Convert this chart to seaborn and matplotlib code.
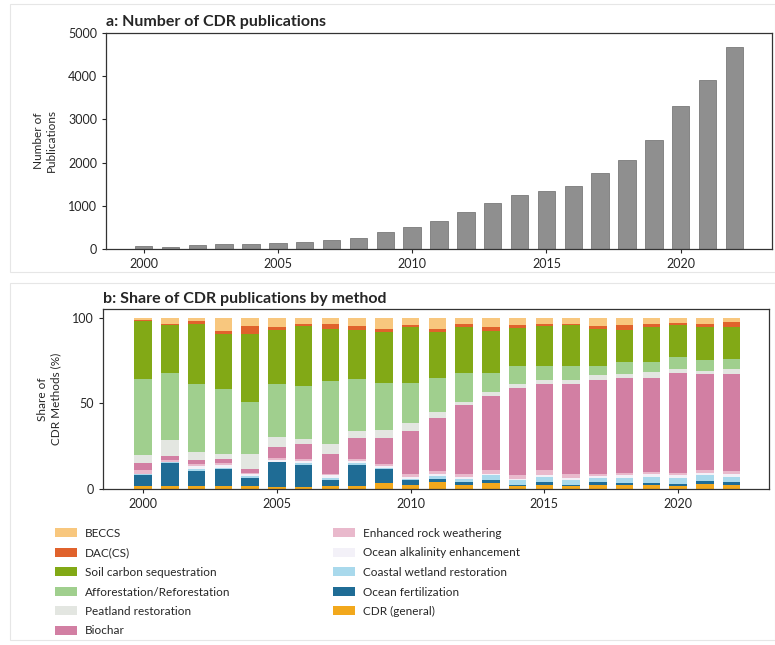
import numpy as np
import pandas as pd
import matplotlib
matplotlib.use("Agg")
import matplotlib.pyplot as plt
from matplotlib.patches import Patch, Rectangle
import seaborn as sns

# ---------------- data ----------------
years = list(range(2000, 2023))
publications = [70, 50, 100, 120, 120, 150, 170, 200, 250, 400, 510, 640, 850,
                 1060, 1240, 1340, 1450, 1760, 2060, 2520, 3320, 3920, 4670]

# methods in stacking order (bottom -> top)
methods = ["CDR (general)", "Ocean fertilization", "Coastal wetland restoration",
           "Ocean alkalinity enhancement", "Enhanced rock weathering", "Biochar",
           "Peatland restoration", "Afforestation/Reforestation",
           "Soil carbon sequestration", "DAC(CS)", "BECCS"]

cdr_general = [1.5, 2, 1.5, 1.5, 1.5, 1, 1, 1.5, 1.5, 3.5, 2.5, 4, 2.5, 3.5, 1.5, 2.5, 1.5, 2.5, 2.5, 2.5, 2, 3, 2.5]
ocean_fert  = [6.5, 13, 9, 10, 5, 14.5, 13, 4, 12.5, 8, 2.5, 2, 1.5, 2, 1, 1.5, 1, 1.5, 1, 1, 1, 1.5, 1.5]
coastal     = [0.5, 0.5, 1, 1, 1, 0.5, 1, 1, 1, 1, 1, 1.5, 2, 2.5, 2.5, 3, 3, 2.5, 3, 3.5, 3.5, 3.5, 3]
oae         = [0.5, 0.5, 2, 1.5, 1.5, 1, 1.5, 1.5, 1.5, 1, 1, 1.5, 1, 1, 1, 1, 1, 1, 1.5, 1.5, 1.5, 1.5, 2]
erw         = [2, 1, 1, 1, 0.5, 1, 1, 1, 1, 1, 2, 1.5, 2, 2, 2, 3, 2.5, 1.5, 1.5, 1.5, 1.5, 1.5, 1.5]
biochar     = [4, 2.5, 2.5, 2.5, 2, 6.5, 8.5, 11.5, 12.5, 15.5, 25, 31, 40, 43.5, 51, 50, 52, 54.5, 55, 55, 58, 56, 56.5]
peatland    = [5, 9, 4.5, 3, 9, 6, 3, 6, 4, 4.5, 4.5, 3.5, 2, 2, 2.5, 2.5, 2.5, 3, 2.5, 3, 2.5, 2, 3]
afforest    = [44, 39, 40, 38, 30, 31, 31, 36.5, 30, 27.5, 23.5, 20, 16.5, 11, 10.5, 8.5, 8.5, 5, 7, 6, 7, 6, 6]
soil        = [34, 28, 35, 32, 40, 31, 35, 30.5, 29, 29.5, 32.5, 26.5, 27, 24.5, 22, 23, 23.5, 22, 18.5, 20.5, 18.5, 19.5, 18.5]
dac         = [0.5, 1, 1.5, 1.5, 4.5, 2, 1.5, 2.5, 2, 2, 1, 2, 1.5, 2.5, 1.5, 1, 1, 1.5, 3, 2, 1.5, 2, 3]
beccs       = [1.5, 3.5, 2, 8, 5, 5.5, 3.5, 4, 5, 6.5, 4.5, 6.5, 4, 5.5, 4.5, 4, 3.5, 5, 4.5, 3.5, 3, 3.5, 2.5]

series = [cdr_general, ocean_fert, coastal, oae, erw, biochar, peatland,
          afforest, soil, dac, beccs]

colors = {
    "BECCS": "#f8c77e",
    "DAC(CS)": "#e0622c",
    "Soil carbon sequestration": "#82a916",
    "Afforestation/Reforestation": "#a0cf8e",
    "Peatland restoration": "#e3e6e1",
    "Biochar": "#d27fa3",
    "Enhanced rock weathering": "#e9b9cc",
    "Ocean alkalinity enhancement": "#f3f1f8",
    "Coastal wetland restoration": "#a9d9ec",
    "Ocean fertilization": "#1f6c95",
    "CDR (general)": "#f2a81c",
}

# ---------------- style ----------------
sns.set_theme(style="ticks")
plt.rcParams["font.family"] = ["Lato", "DejaVu Sans"]
plt.rcParams["axes.edgecolor"] = "#333333"
plt.rcParams["axes.linewidth"] = 0.9

fig = plt.figure(figsize=(7.75, 6.45), dpi=100)
W, H = 775, 645

def ax_rect(l, t, r, b):
    return [l / W, 1 - b / H, (r - l) / W, (b - t) / H]

# faint panel frames
for (l, t, r, b) in [(10, 4, 775, 272), (10, 283, 775, 640)]:
    fig.add_artist(Rectangle((l / W, 1 - b / H), (r - l) / W, (b - t) / H,
                             transform=fig.transFigure, fill=False,
                             edgecolor="#e6e6e6", linewidth=0.8))

# ---------------- panel a ----------------
ax1 = fig.add_axes(ax_rect(106, 33, 772, 249))
df_a = pd.DataFrame({"year": years, "n": publications})
sns.barplot(data=df_a, x="year", y="n", native_scale=True, width=0.65,
            color="#8f8f8f", saturation=1, edgecolor="#7a7a7a", linewidth=0.6,
            ax=ax1)
ax1.set_xlim(1998.6, 2023.4)
ax1.set_ylim(0, 5000)
ax1.set_yticks([0, 1000, 2000, 3000, 4000, 5000])
ax1.set_xticks([2000, 2005, 2010, 2015, 2020])
ax1.set_xlabel("")
ax1.set_ylabel("Number of\nPublications", fontsize=8.5, labelpad=8)
ax1.set_title("a: Number of CDR publications", loc="left", fontsize=11.5,
              fontweight="bold", pad=5)
ax1.tick_params(labelsize=9, length=3, width=0.8)

# ---------------- panel b ----------------
ax2 = fig.add_axes(ax_rect(103, 309, 769, 489))
long = pd.DataFrame({
    "year": np.repeat(years, len(methods)),
    "method": np.tile(methods, len(years)),
    "share": np.array(series).T.ravel(),
})
hue_order = methods[::-1]  # first level drawn on top of the stack
sns.histplot(data=long, x="year", weights="share", hue="method",
             hue_order=hue_order, palette=colors, multiple="stack",
             discrete=True, shrink=0.65, alpha=1, linewidth=0,
             legend=False, ax=ax2)
ax2.set_xlim(1998.5, 2023.4)
ax2.set_ylim(0, 105)
ax2.set_yticks([0, 50, 100])
ax2.set_xticks([2000, 2005, 2010, 2015, 2020])
ax2.set_xlabel("")
ax2.set_ylabel("Share of\nCDR Methods (%)", fontsize=8.5, labelpad=8)
ax2.set_title("b: Share of CDR publications by method", loc="left",
              fontsize=11.5, fontweight="bold", pad=4)
ax2.tick_params(labelsize=9, length=3, width=0.8)

# ---------------- legend ----------------
legend_order = methods[::-1]
handles = [Patch(facecolor=colors[m], edgecolor="none", label=m) for m in legend_order]
common = dict(frameon=False, fontsize=8.5, handlelength=1.9, handleheight=0.8,
              handletextpad=0.6, labelspacing=0.72, borderaxespad=0, borderpad=0)
leg1 = fig.legend(handles=handles[:6], loc="upper left",
                  bbox_to_anchor=(55 / W, 1 - 528 / H), **common)
leg2 = fig.legend(handles=handles[6:], loc="upper left",
                  bbox_to_anchor=(333 / W, 1 - 528 / H), **common)

fig.savefig("out.png", dpi=100)
